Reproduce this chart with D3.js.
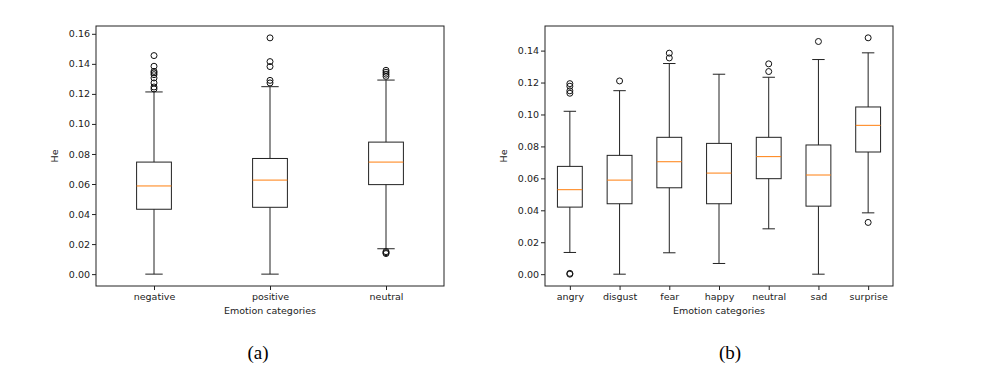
<!DOCTYPE html>
<html>
<head>
<meta charset="utf-8">
<style>
  body { margin: 0; background: #fff; }
  text { font-family: "DejaVu Sans", sans-serif; fill: #222; }
  .axis path, .axis line { stroke: #222; }
  .box { fill: none; stroke: #222; stroke-width: 1; }
  .whisker { stroke: #222; stroke-width: 1; }
  .median { stroke: #ff7f0e; stroke-width: 1; }
  .flier { fill: none; stroke: #111; stroke-width: 1; }
  .caption { font-family: "Liberation Serif", "Times New Roman", serif; font-size: 19px; fill: #000; }
</style>
</head>
<body>
<svg width="996" height="378"></svg>
<script src="https://cdn.jsdelivr.net/npm/d3@7"></script>
<script>
// panel (a): three broad emotion groups
var catsA = ["negative", "positive", "neutral"];
var loA   = [0.0000, 0.0000, 0.0169];
var q1A   = [0.0432, 0.0445, 0.0596];
var medA  = [0.0587, 0.0626, 0.0746];
var q3A   = [0.0746, 0.0770, 0.0879];
var hiA   = [0.1213, 0.1248, 0.1292];
var outA  = [
  [0.1455, 0.1384, 0.1350, 0.1340, 0.1328, 0.1306, 0.1273, 0.1246, 0.1233],
  [0.1573, 0.1415, 0.1382, 0.1290, 0.1273],
  [0.1357, 0.1344, 0.1331, 0.1317, 0.0150, 0.0143, 0.0137]
];
var ticksA = [0, 0.02, 0.04, 0.06, 0.08, 0.10, 0.12, 0.14, 0.16];

// panel (b): seven emotions
var catsB = ["angry", "disgust", "fear", "happy", "neutral", "sad", "surprise"];
var loB   = [0.0136, 0.0000, 0.0134, 0.0067, 0.0284, 0.0000, 0.0384];
var q1B   = [0.0420, 0.0441, 0.0541, 0.0441, 0.0598, 0.0426, 0.0765];
var medB  = [0.0529, 0.0589, 0.0704, 0.0633, 0.0736, 0.0621, 0.0932];
var q3B   = [0.0675, 0.0744, 0.0857, 0.0819, 0.0857, 0.0809, 0.1047];
var hiB   = [0.1020, 0.1149, 0.1319, 0.1252, 0.1233, 0.1344, 0.1386];
var outB  = [
  [0.1193, 0.1177, 0.1148, 0.1133, 0.0005, 0.0000],
  [0.1210],
  [0.1384, 0.1354],
  [],
  [0.1317, 0.1269],
  [0.1457],
  [0.1480, 0.0324]
];
var ticksB = [0, 0.02, 0.04, 0.06, 0.08, 0.10, 0.12, 0.14];

var svg = d3.select("svg");
var fmt = d3.format(".2f");

drawPanel({left: 96, right: 444, top: 26, bottom: 286}, [-0.0079, 0.1652],
  catsA, loA, q1A, medA, q3A, hiA, outA, ticksA, 0.3);
drawPanel({left: 545, right: 893, top: 26, bottom: 286}, [-0.0074, 0.1554],
  catsB, loB, q1B, medB, q3B, hiB, outB, ticksB, 0.5);

svg.append("text").attr("class", "caption").attr("x", 258).attr("y", 359)
  .attr("text-anchor", "middle").text("(a)");
svg.append("text").attr("class", "caption").attr("x", 730).attr("y", 359)
  .attr("text-anchor", "middle").text("(b)");

function drawPanel(box, yDomain, cats, lo, q1, med, q3, hi, out, ticks, boxW) {
  var w = box.right - box.left, h = box.bottom - box.top;
  var g = svg.append("g").attr("transform", "translate(" + box.left + "," + box.top + ")");

  // positions 1..n, limits 0.5..n+0.5 like matplotlib
  var x = d3.scaleLinear().domain([0.5, cats.length + 0.5]).range([0, w]);
  var y = d3.scaleLinear().domain(yDomain).range([h, 0]);
  var bw = x(1 + boxW / 2) - x(1);   // half box width in px

  var xAxis = d3.axisBottom(x).tickValues(d3.range(1, cats.length + 1))
    .tickFormat(function(d) { return cats[d - 1]; }).tickSize(4).tickPadding(3);
  var yAxis = d3.axisLeft(y).tickValues(ticks).tickFormat(fmt).tickSize(4).tickPadding(2);

  g.append("g").attr("class", "axis").attr("transform", "translate(0," + h + ")").call(xAxis)
    .call(function(s) { s.select(".domain").remove(); })
    .selectAll("text").style("font-size", "9.5px").style("font-family", "DejaVu Sans");
  g.append("g").attr("class", "axis").call(yAxis)
    .call(function(s) { s.select(".domain").remove(); })
    .selectAll("text").style("font-size", "9.5px").style("font-family", "DejaVu Sans");

  // frame
  g.append("rect").attr("x", 0).attr("y", 0).attr("width", w).attr("height", h)
    .attr("fill", "none").attr("stroke", "#222").attr("stroke-width", 1);

  var items = g.selectAll(".item").data(cats).enter().append("g").attr("class", "item");

  items.append("line").attr("class", "whisker")
    .attr("x1", function(d, i) { return x(i + 1); }).attr("x2", function(d, i) { return x(i + 1); })
    .attr("y1", function(d, i) { return y(q1[i]); }).attr("y2", function(d, i) { return y(lo[i]); });
  items.append("line").attr("class", "whisker")
    .attr("x1", function(d, i) { return x(i + 1); }).attr("x2", function(d, i) { return x(i + 1); })
    .attr("y1", function(d, i) { return y(q3[i]); }).attr("y2", function(d, i) { return y(hi[i]); });
  // caps are half the box width
  items.append("line").attr("class", "whisker")
    .attr("x1", function(d, i) { return x(i + 1) - bw / 2; }).attr("x2", function(d, i) { return x(i + 1) + bw / 2; })
    .attr("y1", function(d, i) { return y(lo[i]); }).attr("y2", function(d, i) { return y(lo[i]); });
  items.append("line").attr("class", "whisker")
    .attr("x1", function(d, i) { return x(i + 1) - bw / 2; }).attr("x2", function(d, i) { return x(i + 1) + bw / 2; })
    .attr("y1", function(d, i) { return y(hi[i]); }).attr("y2", function(d, i) { return y(hi[i]); });

  items.append("rect").attr("class", "box")
    .attr("x", function(d, i) { return x(i + 1) - bw; })
    .attr("width", 2 * bw)
    .attr("y", function(d, i) { return y(q3[i]); })
    .attr("height", function(d, i) { return y(q1[i]) - y(q3[i]); });

  items.append("line").attr("class", "median")
    .attr("x1", function(d, i) { return x(i + 1) - bw; }).attr("x2", function(d, i) { return x(i + 1) + bw; })
    .attr("y1", function(d, i) { return y(med[i]); }).attr("y2", function(d, i) { return y(med[i]); });

  items.each(function(d, i) {
    d3.select(this).selectAll(".flier").data(out[i]).enter().append("circle")
      .attr("class", "flier")
      .attr("cx", x(i + 1)).attr("cy", function(v) { return y(v); }).attr("r", 3);
  });

  g.append("text").attr("transform", "translate(" + (-38) + "," + (h / 2) + ") rotate(-90)")
    .attr("text-anchor", "middle").style("font-size", "9.5px").text("He");
  g.append("text").attr("x", w / 2).attr("y", h + 28)
    .attr("text-anchor", "middle").style("font-size", "9.5px").text("Emotion categories");
}
</script>
</body>
</html>
